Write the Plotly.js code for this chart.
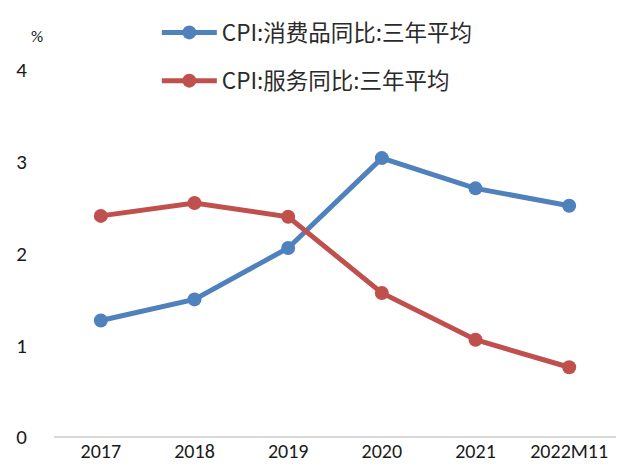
<!DOCTYPE html>
<html>
<head>
<meta charset="utf-8">
<script src="https://cdn.plot.ly/plotly-3.0.1.min.js"></script>
<style>
  html, body { margin: 0; padding: 0; background: #fff; }
  #chart { width: 627px; height: 475px; }
</style>
</head>
<body>
<div id="chart"></div>
<script>
// categories and series (三年平均, %)
const years = ['2017', '2018', '2019', '2020', '2021', '2022M11'];
const consumerGoods = [1.27, 1.50, 2.06, 3.04, 2.71, 2.52];
const services = [2.41, 2.55, 2.40, 1.57, 1.06, 0.76];
const yTicks = [0, 1, 2, 3, 4];

const baseFont = 'Carlito, "Open Sans", "Noto Sans CJK SC", sans-serif';

const goodsTrace = {
    x: years,
    y: consumerGoods,
    type: 'scatter',
    mode: 'lines+markers',
    name: 'CPI:消费品同比:三年平均',
    legendgroup: 'a',
    line: {color: '#4f81bd', width: 5},
    marker: {color: '#4f81bd', size: 14}
};

const servicesTrace = {
    x: years,
    y: services,
    type: 'scatter',
    mode: 'lines+markers',
    name: 'CPI:服务同比:三年平均',
    legendgroup: 'b',
    line: {color: '#c0504d', width: 5},
    marker: {color: '#c0504d', size: 14}
};

const layout = {
    width: 627,
    height: 475,
    margin: { t: 68, b: 38, l: 54, r: 11 },
    paper_bgcolor: '#fff',
    plot_bgcolor: '#fff',
    font: { family: baseFont, size: 18, color: '#222' },
    showlegend: true,
    legend: {
        x: 0.183, y: 1.16, xanchor: 'left', yanchor: 'top',
        font: { family: '"Noto Sans CJK SC", sans-serif', size: 22.5, color: '#2a2a2a' },
        traceorder: 'grouped',
        tracegroupgap: 16,
        itemwidth: 55,
        bgcolor: 'rgba(0,0,0,0)'
    },
    xaxis: {
        type: 'category',
        range: [-0.5, 5.5],
        showgrid: false,
        showline: false,
        zeroline: false,
        ticks: '',
        tickfont: { size: 20, color: '#1a1a1a' },
        fixedrange: true
    },
    yaxis: {
        range: [0, 4],
        tickvals: yTicks,
        ticktext: yTicks.map(String),
        showgrid: false,
        showline: false,
        zeroline: true,
        zerolinecolor: '#d9d9d9',
        zerolinewidth: 1.5,
        ticks: '',
        ticklabelstandoff: 26,
        tickfont: { size: 21, color: '#1a1a1a' },
        fixedrange: true
    },
    annotations: [{
        text: '%',
        xref: 'paper', yref: 'paper',
        x: -0.03, y: 1.092,
        xanchor: 'center', yanchor: 'middle',
        showarrow: false,
        font: { family: baseFont, size: 17, color: '#1a1a1a' }
    }]
};

Plotly.newPlot('chart', [goodsTrace, servicesTrace], layout, {displayModeBar: false});
</script>
</body>
</html>
